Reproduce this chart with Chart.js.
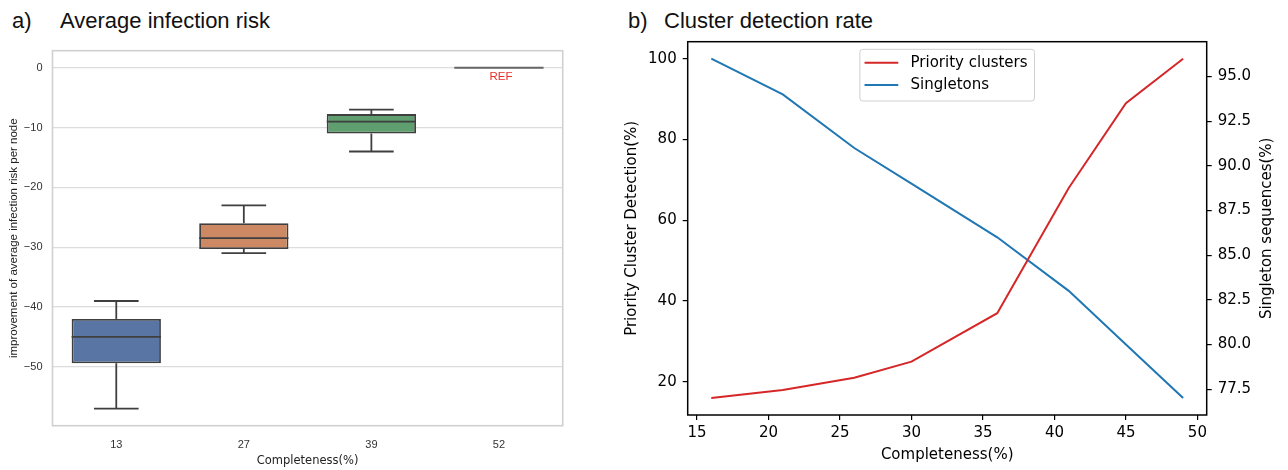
<!DOCTYPE html>
<html>
<head>
<meta charset="utf-8">
<script src="https://cdn.jsdelivr.net/npm/chart.js@4.4.0/dist/chart.umd.min.js"></script>
<style>
    html, body { margin: 0; padding: 0; background: #fff; }
    body { width: 1288px; height: 470px; position: relative; overflow: hidden; }
    .panel-title {
        position: absolute; top: 8px; line-height: 26px; white-space: pre;
        font-family: "Liberation Sans", Arial, sans-serif; font-size: 22px; color: #111;
    }
    #riskWrap { position: absolute; left: 0; top: 0; width: 600px; height: 470px; }
    #detectWrap { position: absolute; left: 600px; top: 0; width: 688px; height: 470px; }
</style>
</head>
<body>
<div class="panel-title" style="left:12px">a)</div>
<div class="panel-title" style="left:60px">Average infection risk</div>
<div class="panel-title" style="left:628px">b)</div>
<div class="panel-title" style="left:664px">Cluster detection rate</div>
<div id="riskWrap"><canvas id="riskChart" width="600" height="470"></canvas></div>
<div id="detectWrap"><canvas id="detectChart" width="688" height="470"></canvas></div>

<script>
(function () {
    "use strict";

    // a) box plot values per completeness level
    var riskCategories = ["13", "27", "39", "52"];
    var riskMin = [-57, -31, -14, 0];
    var riskQ1 = [-49.4, -30.3, -11, 0];
    var riskMedian = [-45, -28.5, -9, 0];
    var riskQ3 = [-42, -26, -7.75, 0];
    var riskMax = [-39, -23, -7, 0];
    var riskTicks = [0, -10, -20, -30, -40, -50];
    var riskColors = ["#5875a4", "#cc8963", "#5f9e6e", "#8c8c8c"];
    var refLabel = "REF";

    // b) detection rate lines
    var completeness = [16, 21, 26, 30, 36, 41, 45, 49];
    var priorityClusters = [16, 18, 21, 25, 37, 68, 89, 100];
    var singletons = [96, 94, 91, 89, 86, 83, 80, 77];
    var completenessTicks = [15, 20, 25, 30, 35, 40, 45, 50];
    var detectionTicks = [20, 40, 60, 80, 100];
    var singletonTicks = [77.5, 80, 82.5, 85, 87.5, 90, 92.5, 95];

    var sans = '"Liberation Sans", Arial, sans-serif';
    var dejavu = '"DejaVu Sans", Verdana, sans-serif';
    var boxLine = "#3f3f3f";

    function fixedTicks(list) {
        return function (scale) {
            scale.ticks = list.map(function (v) { return { value: v }; });
        };
    }

    function line(ctx, x1, y1, x2, y2) {
        ctx.beginPath();
        ctx.moveTo(x1, y1);
        ctx.lineTo(x2, y2);
        ctx.stroke();
    }

    // outline around the plotting area
    var framePlugin = {
        id: "frame",
        afterDatasetsDraw: function (chart, args, opts) {
            var ca = chart.chartArea, ctx = chart.ctx;
            ctx.save();
            ctx.strokeStyle = opts.color;
            ctx.lineWidth = opts.width;
            ctx.strokeRect(ca.left, ca.top, ca.right - ca.left, ca.bottom - ca.top);
            ctx.restore();
        }
    };

    // whiskers, caps and medians on top of the floating bars
    var whiskerPlugin = {
        id: "whiskers",
        afterDatasetsDraw: function (chart) {
            var ctx = chart.ctx, y = chart.scales.y;
            var meta = chart.getDatasetMeta(0);
            ctx.save();
            ctx.strokeStyle = boxLine;
            ctx.lineWidth = 1.8;
            meta.data.forEach(function (bar, i) {
                var x = bar.x, half = bar.width / 2, cap = bar.width / 4;
                var yMin = y.getPixelForValue(riskMin[i]);
                var yMax = y.getPixelForValue(riskMax[i]);
                if (riskMax[i] !== riskQ3[i]) {
                    line(ctx, x, y.getPixelForValue(riskQ3[i]), x, yMax);
                    line(ctx, x - cap, yMax, x + cap, yMax);
                }
                if (riskMin[i] !== riskQ1[i]) {
                    line(ctx, x, y.getPixelForValue(riskQ1[i]), x, yMin);
                    line(ctx, x - cap, yMin, x + cap, yMin);
                }
                var yMed = y.getPixelForValue(riskMedian[i]);
                ctx.strokeStyle = riskQ1[i] === riskQ3[i] ? "#666" : boxLine;
                line(ctx, x - half, yMed, x + half, yMed);
                ctx.strokeStyle = boxLine;
            });
            // reference level marker
            var last = meta.data[meta.data.length - 1];
            ctx.fillStyle = "#e8302a";
            ctx.font = "11.5px " + sans;
            ctx.textAlign = "center";
            ctx.textBaseline = "middle";
            ctx.fillText(refLabel, last.x + 2, y.getPixelForValue(0) + 9.5);
            ctx.restore();
        }
    };

    new Chart(document.getElementById("riskChart").getContext("2d"), {
        type: "bar",
        data: {
            labels: riskCategories,
            datasets: [{
                data: riskQ1.map(function (q, i) { return [q, riskQ3[i]]; }),
                backgroundColor: riskColors,
                borderColor: boxLine,
                borderWidth: 1.8,
                borderSkipped: false,
                barPercentage: 0.7,
                categoryPercentage: 1
            }]
        },
        options: {
            responsive: false,
            animation: false,
            layout: { padding: { top: 50.7, right: 37.3, left: 0, bottom: 0 } },
            plugins: {
                legend: { display: false },
                tooltip: { enabled: false },
                frame: { color: "#d0d0d0", width: 1.6 }
            },
            scales: {
                x: {
                    grid: { display: false },
                    border: { display: false },
                    ticks: { color: "#333", font: { family: sans, size: 11 }, padding: 5 },
                    title: {
                        display: true, text: "Completeness(%)", color: "#222",
                        font: { family: dejavu, size: 11.5 }, padding: { top: 0, bottom: 2.5 }
                    },
                    afterFit: function (scale) { scale.height = 44.3; }
                },
                y: {
                    min: -59.85,
                    max: 2.85,
                    afterBuildTicks: fixedTicks(riskTicks),
                    grid: { color: "#dcdcdc", lineWidth: 1.2, drawTicks: false },
                    border: { display: false },
                    ticks: {
                        color: "#333", font: { family: sans, size: 11 }, padding: 10,
                        callback: function (v) { return String(v).replace("-", "\u2212"); }
                    },
                    title: {
                        display: true, text: "improvement of average infection risk per node", color: "#222",
                        font: { family: sans, size: 11.5 }, padding: { top: 7, bottom: 0 }
                    },
                    afterFit: function (scale) { scale.width = 52.5; }
                }
            }
        },
        plugins: [framePlugin, whiskerPlugin]
    });

    // legend box inside the plot and right axis title reading upwards
    var detectPlugin = {
        id: "detectExtras",
        afterDatasetsDraw: function (chart) {
            var ctx = chart.ctx, ca = chart.chartArea;
            var sets = chart.data.datasets;
            ctx.save();
            ctx.font = "15px " + dejavu;
            var textW = 0;
            sets.forEach(function (ds) { textW = Math.max(textW, ctx.measureText(ds.label).width); });
            var boxW = 50.7 + textW + 7, boxH = 51.7;
            var left = (ca.left + ca.right) / 2 - boxW / 2, top = ca.top + 7.6;
            ctx.beginPath();
            ctx.roundRect(left, top, boxW, boxH, 3);
            ctx.fillStyle = "rgba(255,255,255,0.8)";
            ctx.fill();
            ctx.strokeStyle = "#d0d0d0";
            ctx.lineWidth = 1;
            ctx.stroke();
            ctx.textBaseline = "middle";
            sets.forEach(function (ds, i) {
                var yy = top + 13.4 + i * 22.3;
                ctx.strokeStyle = ds.borderColor;
                ctx.lineWidth = 2;
                line(ctx, left + 4.7, yy, left + 38.4, yy);
                ctx.fillStyle = "#000";
                ctx.fillText(ds.label, left + 50.7, yy + 0.5);
            });

            var y1 = chart.scales.y1;
            ctx.translate(y1.right - 21.3, (ca.top + ca.bottom) / 2);
            ctx.rotate(-Math.PI / 2);
            ctx.textAlign = "center";
            ctx.fillStyle = "#000";
            ctx.fillText("Singleton sequences(%)", 0, 0);
            ctx.restore();
        }
    };

    var outerGrid = { drawOnChartArea: false, drawTicks: true, tickLength: 5, color: "#000", lineWidth: 1.2 };

    new Chart(document.getElementById("detectChart").getContext("2d"), {
        type: "line",
        data: {
            datasets: [
                {
                    label: "Priority clusters",
                    data: completeness.map(function (c, i) { return { x: c, y: priorityClusters[i] }; }),
                    borderColor: "#d62728",
                    borderWidth: 2,
                    pointRadius: 0,
                    yAxisID: "y"
                },
                {
                    label: "Singletons",
                    data: completeness.map(function (c, i) { return { x: c, y: singletons[i] }; }),
                    borderColor: "#1f77b4",
                    borderWidth: 2,
                    pointRadius: 0,
                    yAxisID: "y1"
                }
            ]
        },
        options: {
            responsive: false,
            animation: false,
            layout: { padding: { top: 41.7, right: 0, left: 0, bottom: 0 } },
            plugins: {
                legend: { display: false },
                tooltip: { enabled: false },
                frame: { color: "#000", width: 1.5 }
            },
            scales: {
                x: {
                    type: "linear",
                    min: 14.35,
                    max: 50.65,
                    afterBuildTicks: fixedTicks(completenessTicks),
                    grid: outerGrid,
                    border: { display: false },
                    ticks: { color: "#000", font: { family: dejavu, size: 15 }, padding: 4 },
                    title: {
                        display: true, text: "Completeness(%)", color: "#000",
                        font: { family: dejavu, size: 15 }, padding: { top: 0, bottom: 6 }
                    },
                    afterFit: function (scale) { scale.height = 55; }
                },
                y: {
                    position: "left",
                    min: 11.8,
                    max: 104.2,
                    afterBuildTicks: fixedTicks(detectionTicks),
                    grid: outerGrid,
                    border: { display: false },
                    ticks: { color: "#000", font: { family: dejavu, size: 15 }, padding: 6 },
                    title: {
                        display: true, text: "Priority Cluster Detection(%)", color: "#000",
                        font: { family: dejavu, size: 15 }, padding: { top: 23, bottom: 0 }
                    },
                    afterFit: function (scale) { scale.width = 87.7; }
                },
                y1: {
                    position: "right",
                    min: 76.05,
                    max: 96.95,
                    afterBuildTicks: fixedTicks(singletonTicks),
                    grid: outerGrid,
                    border: { display: false },
                    ticks: {
                        color: "#000", font: { family: dejavu, size: 15 }, padding: 6,
                        callback: function (v) { return v.toFixed(1); }
                    },
                    afterFit: function (scale) { scale.width = 81.3; }
                }
            }
        },
        plugins: [framePlugin, detectPlugin]
    });
})();
</script>
</body>
</html>
